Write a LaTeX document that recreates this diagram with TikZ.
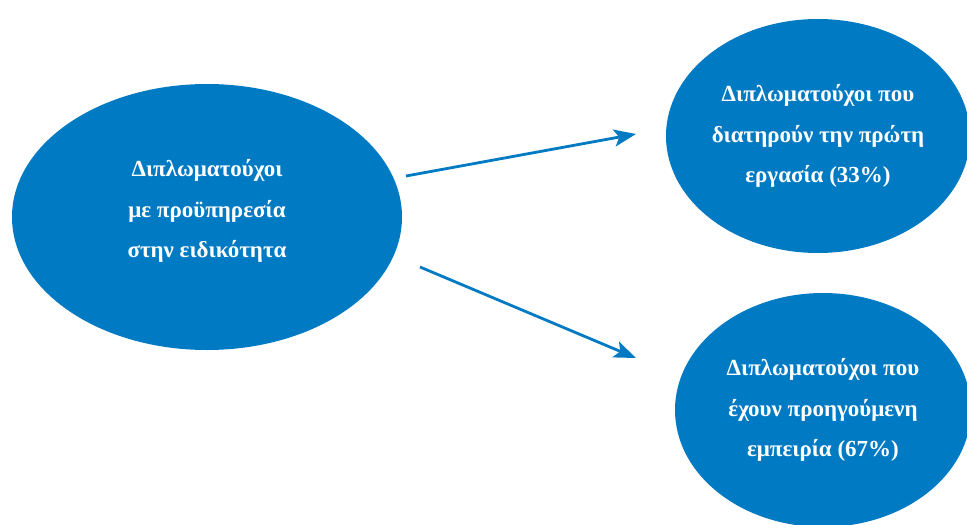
\documentclass[tikz,border=0pt]{standalone}
\usepackage{fontspec}
\setmainfont{Liberation Serif}
\usetikzlibrary{arrows.meta}
\definecolor{blu}{RGB}{0,122,194}
\begin{document}
\begin{tikzpicture}[x=1pt,y=-1pt,
  blob/.style={fill=blu,draw=none},
  lbl/.style={text=white,font=\bfseries\fontsize{23}{40.5}\selectfont,align=center},
  arr/.style={draw=blu,line width=2.8pt,-{Stealth[length=22pt,width=17pt,inset=5pt]}}]
\useasboundingbox (0,0) rectangle (967,525);
\begin{scope}
\clip (0,0) rectangle (967,525);
\fill[blob] (207,217) ellipse [x radius=195, y radius=133];
\fill[blob] (818,136) ellipse [x radius=152, y radius=117];
\fill[blob] (823,410) ellipse [x radius=148, y radius=117];
\end{scope}
\node[lbl] (a) at (207,211) {Διπλωματούχοι\\με προϋπηρεσία\\στην ειδικότητα};
\node[lbl] (b) at (818,136) {Διπλωματούχοι που\\διατηρούν την πρώτη\\εργασία (33\%)};
\node[lbl] (c) at (823,410) {Διπλωματούχοι που\\έχουν προηγούμενη\\εμπειρία (67\%)};
\coordinate (s1) at (406,176);
\coordinate (e1) at (636,134);
\coordinate (s2) at (420,267);
\coordinate (e2) at (636,358);
\draw[arr] (s1) -- (e1);
\draw[arr] (s2) -- (e2);
\end{tikzpicture}
\end{document}
